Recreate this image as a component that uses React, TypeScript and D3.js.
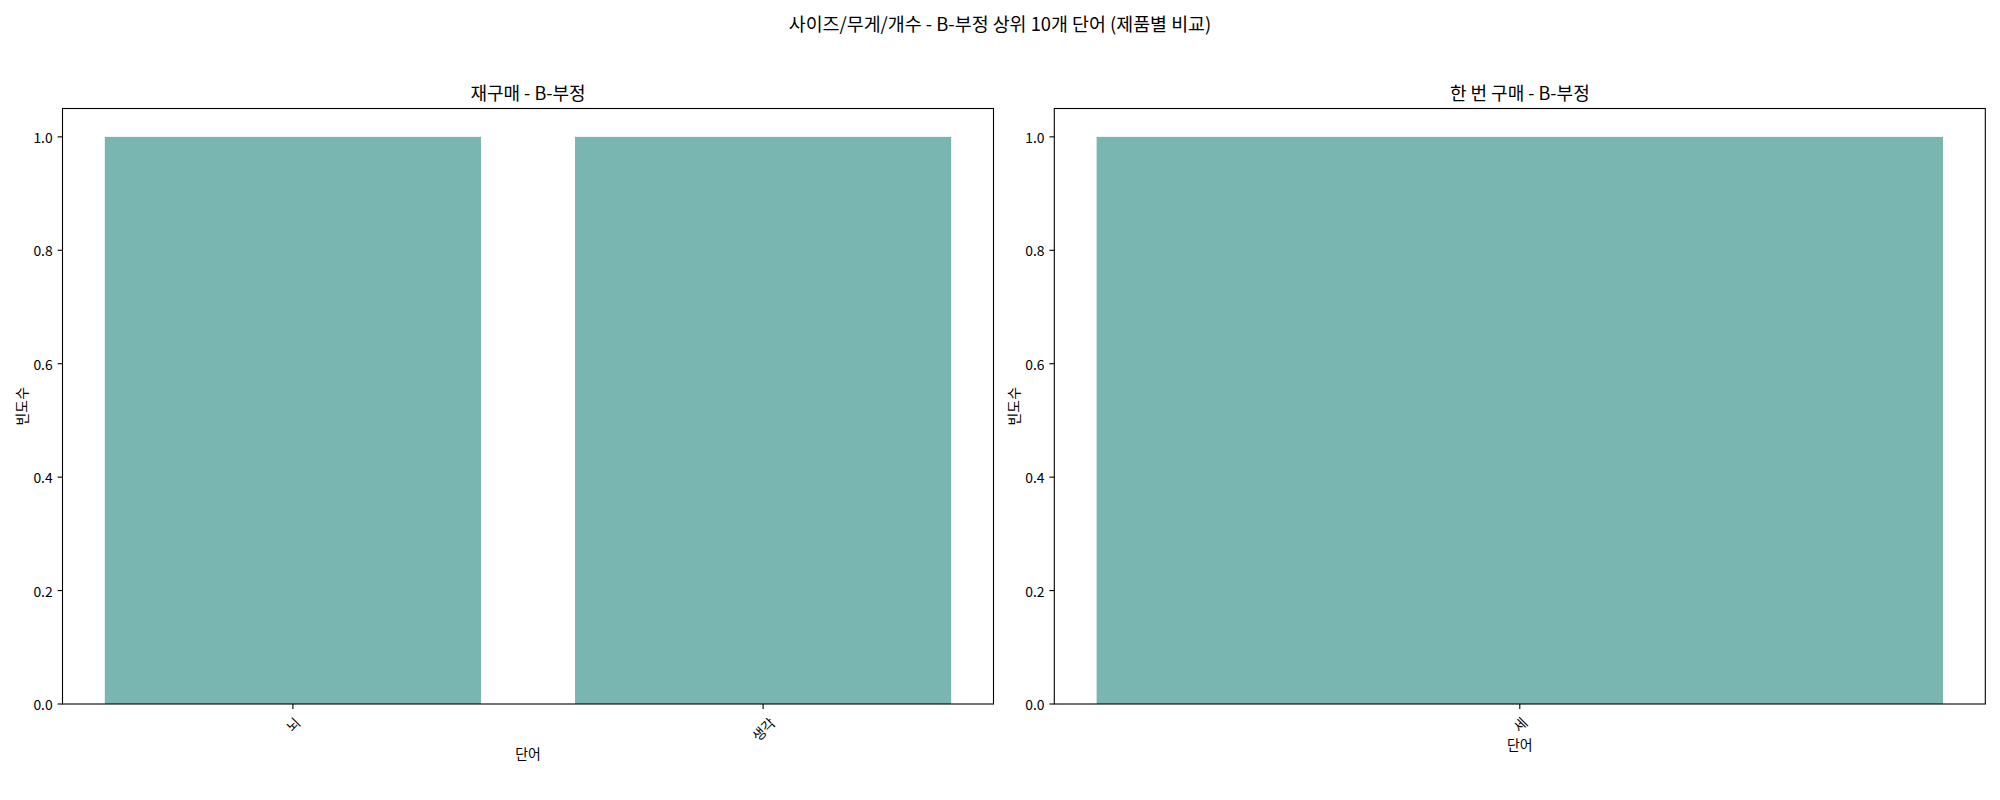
import { useRef, useEffect } from 'react';
import * as d3 from 'd3';

const leftWords = ['뇌', '생각'];
const leftCounts = [1, 1];
const rightWords = ['세'];
const rightCounts = [1];
const yTicks = [0, 0.2, 0.4, 0.6, 0.8, 1.0];

const suptitle = '사이즈/무게/개수 - B-부정 상위 10개 단어 (제품별 비교)';
const leftTitle = '재구매 - B-부정';
const rightTitle = '한 번 구매 - B-부정';
const xLabel = '단어';
const yLabel = '빈도수';

const W = 2000;
const H = 800;
const FONT = '"Noto Sans CJK KR", "Noto Sans", sans-serif';
const BAR = '#7ab6b1';

function drawPanel(svg, words, counts, title, x0, x1) {
  const top = 108.5;
  const bottom = 704;

  // matplotlib-like margins: bars of width 0.8, 5% padding
  const lo = -0.4;
  const hi = words.length - 1 + 0.4;
  const pad = (hi - lo) * 0.05;
  const x = d3.scaleLinear().domain([lo - pad, hi + pad]).range([x0, x1]);
  const y = d3.scaleLinear().domain([0, 1.05]).range([bottom, top]);

  const g = svg.append('g');

  g.selectAll('rect.bar')
    .data(words)
    .join('rect')
    .attr('class', 'bar')
    .attr('x', (d, i) => x(i - 0.4))
    .attr('width', x(0.8) - x(0))
    .attr('y', (d, i) => y(counts[i]))
    .attr('height', (d, i) => y(0) - y(counts[i]))
    .attr('fill', BAR);

  // frame
  g.append('rect')
    .attr('x', x0)
    .attr('y', top)
    .attr('width', x1 - x0)
    .attr('height', bottom - top)
    .attr('fill', 'none')
    .attr('stroke', '#000')
    .attr('stroke-width', 1.1);

  // y ticks
  const yt = g.append('g');
  yTicks.forEach(t => {
    yt.append('line')
      .attr('x1', x0 - 4.9).attr('x2', x0)
      .attr('y1', y(t)).attr('y2', y(t))
      .attr('stroke', '#000').attr('stroke-width', 1.1);
  });
  const yLabels = yt.selectAll('text')
    .data(yTicks)
    .join('text')
    .attr('x', x0 - 9.8)
    .attr('y', d => y(d))
    .attr('text-anchor', 'end')
    .attr('dominant-baseline', 'central')
    .attr('font-size', 13.9)
    .attr('font-family', FONT)
    .text(d => d.toFixed(1));

  let minLeft = x0;
  yLabels.each(function () {
    const b = this.getBBox();
    minLeft = Math.min(minLeft, b.x);
  });
  g.append('text')
    .attr('transform', `translate(${minLeft - 5.6 - 7},${(top + bottom) / 2}) rotate(-90)`)
    .attr('text-anchor', 'middle')
    .attr('dominant-baseline', 'central')
    .attr('font-size', 13.9)
    .attr('font-family', FONT)
    .text(yLabel);

  // x ticks (rotated 45)
  let maxBottom = bottom;
  words.forEach((w, i) => {
    const cx = x(i);
    g.append('line')
      .attr('x1', cx).attr('x2', cx)
      .attr('y1', bottom).attr('y2', bottom + 4.9)
      .attr('stroke', '#000').attr('stroke-width', 1.1);
    const t = g.append('text')
      .attr('text-anchor', 'middle')
      .attr('dominant-baseline', 'central')
      .attr('font-size', 13.9)
      .attr('font-family', FONT)
      .text(w);
    const b = t.node().getBBox();
    const half = (b.width + b.height * 0.85) * Math.SQRT1_2 / 2;
    const cy = bottom + 9.8 + half;
    t.attr('transform', `translate(${cx},${cy}) rotate(-45)`);
    maxBottom = Math.max(maxBottom, cy + half);
  });

  g.append('text')
    .attr('x', (x0 + x1) / 2)
    .attr('y', maxBottom + 2)
    .attr('text-anchor', 'middle')
    .attr('dominant-baseline', 'hanging')
    .attr('font-size', 13.9)
    .attr('font-family', FONT)
    .text(xLabel);

  g.append('text')
    .attr('x', (x0 + x1) / 2)
    .attr('y', top - 8.3)
    .attr('text-anchor', 'middle')
    .attr('font-size', 18)
    .attr('font-family', FONT)
    .text(title);
}

export default function App() {
  const svgRef = useRef(null);

  useEffect(() => {
    document.body.style.margin = '0';
    const svg = d3.select(svgRef.current);
    svg.selectAll('*').remove();

    svg.append('rect').attr('width', W).attr('height', H).attr('fill', '#fff');

    svg.append('text')
      .attr('x', W / 2)
      .attr('y', 23)
      .attr('text-anchor', 'middle')
      .attr('dominant-baseline', 'central')
      .attr('font-size', 18.4)
      .attr('font-family', FONT)
      .text(suptitle);

    drawPanel(svg, leftWords, leftCounts, leftTitle, 62.5, 993.5);
    drawPanel(svg, rightWords, rightCounts, rightTitle, 1054.3, 1985.3);
  }, []);

  return (
    <svg ref={svgRef} width={W} height={H} style={{ display: 'block' }} />
  );
}
